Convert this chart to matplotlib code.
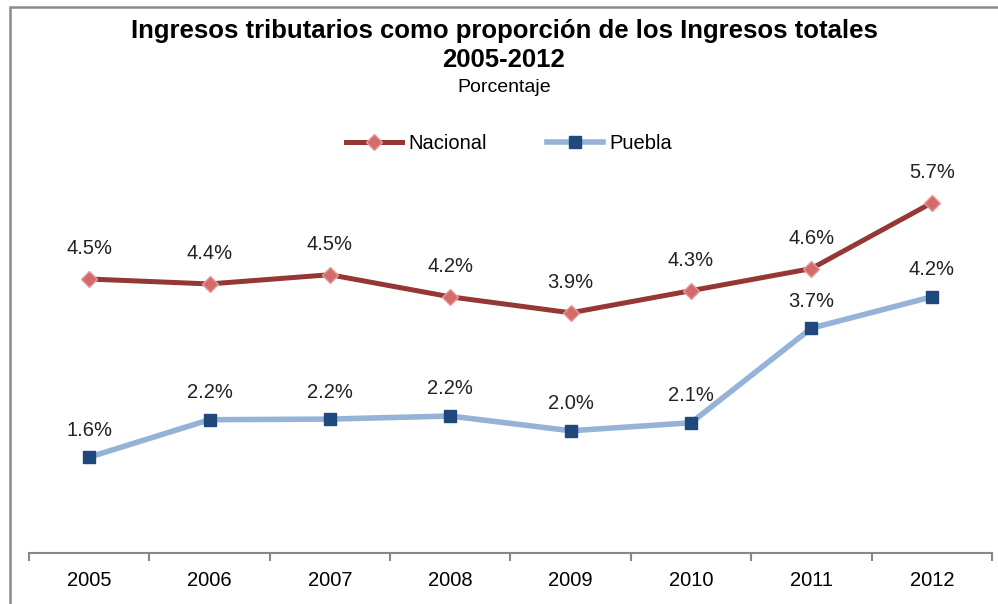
import matplotlib
matplotlib.use("Agg")
import matplotlib.pyplot as plt
from matplotlib.patches import Rectangle

plt.rcParams["font.family"] = ["Liberation Sans", "DejaVu Sans"]

# datos (porcentaje)
years = ["2005", "2006", "2007", "2008", "2009", "2010", "2011", "2012"]
nacional = [4.46, 4.38, 4.53, 4.17, 3.91, 4.27, 4.63, 5.70]
puebla = [1.56, 2.17, 2.18, 2.23, 1.99, 2.12, 3.66, 4.17]

red_line = "#953735"
red_mark = "#D46A6A"
blue_line = "#95B3D7"
blue_mark = "#1F497D"

fig = plt.figure(figsize=(9.98, 6.04), dpi=100)
ax = fig.add_axes([0.029, 0.0844, 0.965, 0.712])

x = list(range(len(years)))
ax.plot(x, nacional, color=red_line, lw=3.6, marker="D", ms=8,
        mfc=red_mark, mec="#E39A9A", mew=1.0, label="Nacional", zorder=3)
ax.plot(x, puebla, color=blue_line, lw=4.0, marker="s", ms=8,
        mfc=blue_mark, mec=blue_mark, label="Puebla", zorder=3)

# etiquetas de datos
for xi, v in zip(x, nacional):
    ax.annotate(f"{v:.1f}%", (xi, v), xytext=(0, 22), textcoords="offset points",
                ha="center", va="center", fontsize=14.5, color="#222222")
for xi, v in zip(x, puebla):
    ax.annotate(f"{v:.1f}%", (xi, v), xytext=(0, 19.5), textcoords="offset points",
                ha="center", va="center", fontsize=14.5, color="#222222")

ax.set_xlim(-0.5, len(years) - 0.5)
ax.set_ylim(0, 7)
ax.set_xticks([i - 0.5 for i in range(len(years) + 1)])
ax.set_xticklabels([])
ax.set_xticks(x, minor=True)
ax.set_xticklabels(years, minor=True, fontsize=14.5)
ax.tick_params(axis="x", which="major", length=6, width=1.5, color="#888888")
ax.tick_params(axis="x", which="minor", length=0, pad=13)
ax.set_yticks([])
for s in ["left", "right", "top"]:
    ax.spines[s].set_visible(False)
ax.spines["bottom"].set_color("#888888")
ax.spines["bottom"].set_linewidth(1.5)

# títulos
fig.text(0.505, 0.948, "Ingresos tributarios como proporción de los Ingresos totales",
         ha="center", va="center", fontsize=18.5, fontweight="bold")
fig.text(0.505, 0.901, "2005-2012", ha="center", va="center", fontsize=18.5, fontweight="bold")
fig.text(0.505, 0.855, "Porcentaje", ha="center", va="center", fontsize=14)

fig.legend(loc="center", bbox_to_anchor=(0.51, 0.763), ncol=2, frameon=False,
           fontsize=14.5, handlelength=2.8, columnspacing=3.0, handletextpad=0.3)

# marco
fig.patches.append(Rectangle((10 / 998, -0.1), 1.2, 1.1 - 7 / 604,
                             transform=fig.transFigure, fill=False,
                             edgecolor="#8a8a8a", lw=1.8))

fig.savefig("out.png", dpi=100)
